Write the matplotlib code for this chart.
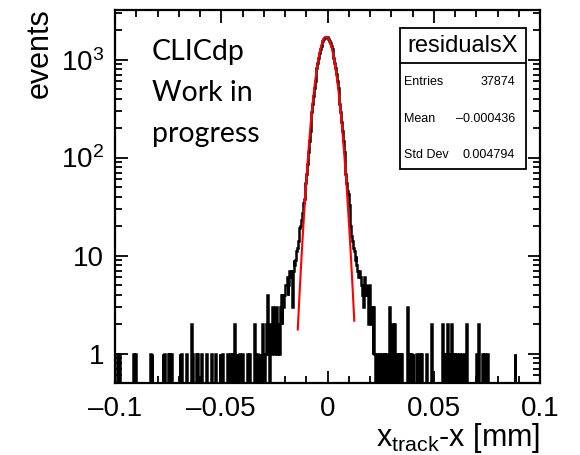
import numpy as np
import matplotlib.pyplot as plt
from matplotlib.patches import Rectangle
from matplotlib.ticker import FixedLocator, FixedFormatter, LogLocator, MultipleLocator, NullFormatter

plt.rcParams['font.family'] = ['Liberation Sans', 'DejaVu Sans']
plt.rcParams['mathtext.fontset'] = 'custom'
plt.rcParams['mathtext.rm'] = 'Liberation Sans'
plt.rcParams['mathtext.it'] = 'Liberation Sans'

# histogram binning: 500 bins over [-0.1, 0.1] mm
n_bins = 500
x_lo, x_hi = -0.1, 0.1

# bin contents of the central part, first bin index 203 (centre -0.0186 mm)
core_first_bin = 203
core_counts = [4, 5, 7, 6, 7, 3, 7, 9, 8, 9, 11, 12, 14, 16, 19, 20, 23, 27, 34, 38,
               45, 55, 68, 87, 113,
               146, 185, 233, 289, 354, 429, 513, 606, 707, 815, 928, 1043, 1159,
               1271, 1377, 1474, 1558, 1627, 1678, 1709,
               1720,
               1709, 1678, 1627, 1558, 1474, 1377, 1271, 1159, 1043, 928, 815, 707,
               606, 513, 429, 354, 289, 233, 185, 146,
               113, 87, 68, 55, 46, 42, 33, 26, 20, 16, 14, 12, 11, 9, 10, 8, 7, 6,
               7, 6, 5, 5, 4, 3, 6]

# sparse tails: bin centre [mm] and entries
tail_x = [-0.0990, -0.0986, -0.0978, -0.0914, -0.0902, -0.0834, -0.0826, -0.0774,
          -0.0766, -0.0750, -0.0742, -0.0734, -0.0694, -0.0686, -0.0662, -0.0642,
          -0.0634, -0.0618, -0.0610, -0.0594, -0.0570, -0.0546, -0.0526, -0.0506,
          -0.0494, -0.0470, -0.0458, -0.0446, -0.0438, -0.0426, -0.0414, -0.0402,
          -0.0378, -0.0366, -0.0342, -0.0330, -0.0318, -0.0306, -0.0302, -0.0294,
          -0.0290, -0.0286, -0.0282, -0.0278, -0.0270, -0.0266, -0.0262, -0.0258,
          -0.0254, -0.0250, -0.0246, -0.0242, -0.0238, -0.0234, -0.0230, -0.0226,
          -0.0222, -0.0218, -0.0214, -0.0210, -0.0206, -0.0202, -0.0198, -0.0194,
          -0.0190,
          0.0178, 0.0182, 0.0186, 0.0190, 0.0194, 0.0198, 0.0202, 0.0206, 0.0210,
          0.0214, 0.0218, 0.0222, 0.0230, 0.0234, 0.0246, 0.0258, 0.0270, 0.0278,
          0.0290, 0.0298, 0.0306, 0.0314, 0.0326, 0.0334, 0.0342, 0.0350, 0.0378,
          0.0386, 0.0394, 0.0402, 0.0418, 0.0426, 0.0434, 0.0442, 0.0466, 0.0490,
          0.0542, 0.0550, 0.0558, 0.0566, 0.0574, 0.0582, 0.0590, 0.0598, 0.0606,
          0.0614, 0.0622, 0.0634, 0.0638, 0.0654, 0.0702, 0.0710, 0.0730, 0.0738,
          0.0746, 0.0754, 0.0882]
tail_n = [1, 1, 1, 1, 1, 1, 1, 1,
          1, 1, 1, 1, 1, 1, 1, 2,
          1, 1, 1, 1, 1, 1, 1, 1,
          1, 1, 1, 1, 2, 1, 1, 1,
          1, 1, 2, 1, 1, 2, 1, 1,
          1, 2, 4, 1, 2, 2, 1, 3,
          2, 1, 3, 3, 2, 1, 2, 1,
          3, 4, 2, 4, 3, 4, 5, 5,
          6,
          5, 4, 5, 4, 2, 5, 3, 2, 3,
          1, 3, 1, 1, 1, 1, 1, 1, 1,
          3, 1, 2, 2, 1, 1, 1, 1, 3,
          1, 1, 1, 1, 1, 1, 1, 1, 2,
          2, 1, 1, 2, 1, 2, 1, 1, 1,
          1, 1, 1, 1, 2, 1, 2, 1, 1,
          1, 1, 1]

# Gaussian fit curve
fit_x = [-0.0140, -0.013, -0.012, -0.011, -0.010, -0.009, -0.008, -0.007, -0.006,
         -0.005, -0.004, -0.003, -0.002, -0.001, 0.000, 0.001, 0.002, 0.003, 0.004,
         0.005, 0.006, 0.007, 0.008, 0.009, 0.010, 0.011, 0.012, 0.0126]
fit_y = [1.76, 4.74, 11.8, 27.2, 58.1, 115, 211, 358, 562,
         819, 1104, 1379, 1595, 1709, 1696, 1559, 1327, 1046, 764,
         517, 324, 188, 101, 50.2, 23.2, 9.9, 3.91, 2.16]

x_ticks = [-0.1, -0.05, 0, 0.05, 0.1]
x_tick_labels = ['–0.1', '–0.05', '0', '0.05', '0.1']
y_ticks = [1, 10, 100, 1000]
y_tick_labels = ['1', '10', '$10^{2}$', '$10^{3}$']

label_lines = ['CLICdp', 'Work in', 'progress']

stats_title = 'residualsX'
stats_names = ['Entries', 'Mean', 'Std Dev']
stats_values = ['37874', '–0.000436', '0.004794']

# fill histogram
edges = np.linspace(x_lo, x_hi, n_bins + 1)
counts = np.zeros(n_bins)
counts[core_first_bin:core_first_bin + len(core_counts)] = core_counts
tail_hist, _ = np.histogram(tail_x, bins=edges, weights=tail_n)
counts += tail_hist

fig = plt.figure(figsize=(5.8, 4.55), dpi=100)
ax = fig.add_axes([115 / 580, 72 / 455, 425 / 580, 373 / 455])

# empty bins drop below the frame so the outline reaches the x axis
shown = np.where(counts > 0, counts, 1e-3)
ax.stairs(shown, edges, baseline=None, color='black', lw=1.8)
ax.plot(fit_x, fit_y, color='red', lw=1.5)

ax.set_yscale('log')
ax.set_xlim(x_lo, x_hi)
ax.set_ylim(0.5, 3210)

ax.xaxis.set_major_locator(FixedLocator(x_ticks))
ax.xaxis.set_major_formatter(FixedFormatter(x_tick_labels))
ax.xaxis.set_minor_locator(MultipleLocator(0.01))
ax.yaxis.set_major_locator(FixedLocator(y_ticks))
ax.yaxis.set_major_formatter(FixedFormatter(y_tick_labels))
ax.yaxis.set_minor_locator(LogLocator(base=10, subs=np.arange(2, 10)))
ax.yaxis.set_minor_formatter(NullFormatter())

ax.tick_params(which='both', direction='in', top=True, right=True, width=1.3,
               labelsize=20)
ax.tick_params(which='major', length=9)
ax.tick_params(which='minor', length=5)
ax.tick_params(axis='x', pad=9)
ax.tick_params(axis='y', pad=8)
for s in ax.spines.values():
    s.set_linewidth(1.6)

fig.text(40 / 580, 1 - 8 / 455, 'events', rotation=90, ha='center', va='top', fontsize=22)
fig.text(540 / 580, 1 - 446 / 455, r'x$_{\mathregular{track}}$-x [mm]', ha='right',
         va='baseline', fontsize=22)

for i, line in enumerate(label_lines):
    fig.text(152 / 580, 1 - (60 + 41 * i) / 455, line, ha='left', va='baseline',
             fontsize=20.5, family='Lato')

# statistics box
bx0, bx1 = 400 / 580, 526 / 580
by_top, by_sep, by_bot = 1 - 28 / 455, 1 - 63 / 455, 1 - 169 / 455
fig.patches.append(Rectangle((bx0, by_bot), bx1 - bx0, by_top - by_bot,
                             transform=fig.transFigure, facecolor='white',
                             edgecolor='black', lw=1.3, zorder=5))
fig.lines.append(plt.Line2D([bx0, bx1], [by_sep, by_sep], transform=fig.transFigure,
                            color='black', lw=1.3, zorder=6))
fig.text((bx0 + bx1) / 2, 1 - 46 / 455, stats_title, ha='center', va='center',
         fontsize=17, zorder=7)
for row, (name, val) in enumerate(zip(stats_names, stats_values)):
    yy = 1 - (82 + 36.5 * row) / 455
    fig.text(404 / 580, yy, name, ha='left', va='center', fontsize=9, zorder=7)
    fig.text(515 / 580, yy, val, ha='right', va='center', fontsize=9, zorder=7)

fig.savefig('out.png', dpi=100)
